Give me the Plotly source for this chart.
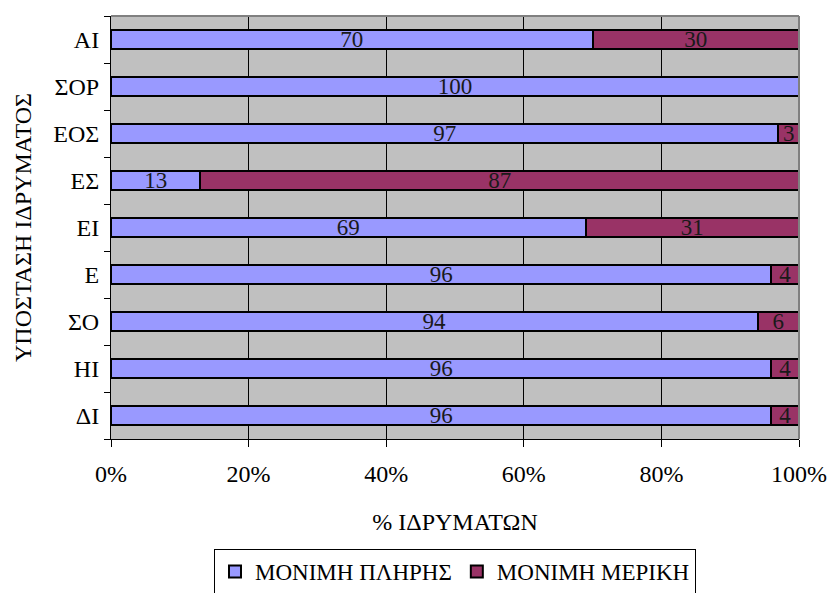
import plotly.graph_objects as go

# Institutions, listed from top to bottom
categories = ["ΑΙ", "ΣΟΡ", "ΕΟΣ", "ΕΣ", "ΕΙ", "Ε", "ΣΟ", "ΗΙ", "ΔΙ"]
full_time = [70, 100, 97, 13, 69, 96, 94, 96, 96]
part_time = [30, 0, 3, 87, 31, 4, 6, 4, 4]
x_ticks = [0, 20, 40, 60, 80, 100]

FONT = "Liberation Serif, Times New Roman, serif"

def labels(vals):
    return [str(v) if v > 0 else "" for v in vals]

fig = go.Figure()
fig.add_trace(go.Bar(
    y=categories, x=full_time, orientation="h", name="ΜΟΝΙΜΗ ΠΛΗΡΗΣ",
    marker=dict(color="#9999FF", line=dict(color="black", width=2)),
    text=labels(full_time), textposition="inside", insidetextanchor="middle",
    textangle=0, textfont=dict(family=FONT, size=23, color="#1a1a1a"),
))
fig.add_trace(go.Bar(
    y=categories, x=part_time, orientation="h", name="ΜΟΝΙΜΗ ΜΕΡΙΚΗ",
    marker=dict(color="#993366", line=dict(color="black", width=2)),
    text=labels(part_time), textposition="inside", insidetextanchor="middle",
    textangle=0, textfont=dict(family=FONT, size=23, color="#1a1a1a"),
))

fig.update_layout(
    barmode="stack",
    bargap=0.6,
    width=829, height=593,
    margin=dict(l=111, r=30, t=16, b=154, autoexpand=False),
    paper_bgcolor="white",
    plot_bgcolor="#C0C0C0",
    font=dict(family=FONT, size=24, color="black"),
    uniformtext=dict(minsize=23, mode="show"),
    legend=dict(
        orientation="h", x=0.5, xanchor="center", y=-0.26, yanchor="top",
        bordercolor="black", borderwidth=1, bgcolor="white",
        font=dict(family=FONT, size=23), traceorder="normal",
        itemwidth=30, tracegroupgap=0,
    ),
    showlegend=True,
)

fig.update_xaxes(
    range=[0, 100], tickmode="array", tickvals=x_ticks,
    ticktext=[f"{v}%" for v in x_ticks],
    showgrid=True, gridcolor="black", gridwidth=1,
    ticks="outside", ticklen=7, tickcolor="black",
    showline=True, linecolor="black", linewidth=1, mirror=False,
    ticklabelstandoff=6, tickfont=dict(size=24), automargin=False,
    title=dict(text="% ΙΔΡΥΜΑΤΩΝ", font=dict(size=24), standoff=27),
    zeroline=False,
)
fig.update_yaxes(
    categoryorder="array", categoryarray=categories[::-1],
    tickson="boundaries", ticks="outside", ticklen=6, tickcolor="black",
    showline=True, linecolor="black", linewidth=1, automargin=False,
    showgrid=False, tickfont=dict(size=24), ticklabelstandoff=6,
    title=dict(text="ΥΠΟΣΤΑΣΗ ΙΔΡΥΜΑΤΟΣ", font=dict(size=24), standoff=14),
)

# grey frame on the top and right edges of the plot area
fig.add_shape(type="line", xref="paper", yref="paper", x0=0, x1=1, y0=1, y1=1,
              line=dict(color="#808080", width=2))
fig.add_shape(type="line", xref="paper", yref="paper", x0=1, x1=1, y0=0, y1=1,
              line=dict(color="#808080", width=2))

fig.write_html("out.html")
